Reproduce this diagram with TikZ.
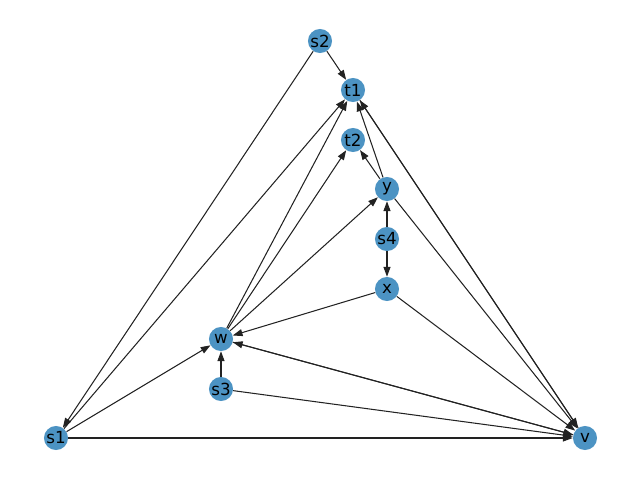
\documentclass[tikz,border=0pt]{standalone}
\usepackage{fontspec}
\setmainfont{DejaVu Sans}
\usepackage{xcolor}
\usetikzlibrary{arrows.meta}
\definecolor{nodeblue}{RGB}{76,147,195}
\definecolor{edgegray}{RGB}{34,34,34}

\begin{document}
\begin{tikzpicture}[x=0.72pt,y=-0.72pt,
		vertex/.style={circle,fill=nodeblue,inner sep=0pt,minimum size=17.3pt,font=\fontsize{12}{12}\selectfont},
		edge/.style={draw=edgegray,line width=0.75pt,-{Triangle[length=7pt,width=5pt]}}]
			\useasboundingbox (0,0) rectangle (640,480);
			\node[vertex] (s2) at (320,41) {s2};
			\node[vertex] (t1) at (353,90) {t1};
			\node[vertex] (t2) at (353,140) {t2};
			\node[vertex] (y) at (387,189) {y};
			\node[vertex] (s4) at (387,239) {s4};
			\node[vertex] (x) at (387,289) {x};
			\node[vertex] (w) at (221,339) {w};
			\node[vertex] (s3) at (221,389) {s3};
			\node[vertex] (s1) at (56,438) {s1};
			\node[vertex] (v) at (585,438) {v};
			\draw[edge] (s2) -- (t1);
			\draw[edge] (s2) -- (s1);
			\draw[edge] (s1) -- (t1);
			\draw[edge] (s1) -- (w);
			\draw[edge] (s1) -- (v);
			\draw[edge] (t1) -- (v); \draw[edge] (v) -- (t1);
			\draw[edge] (w) -- (v); \draw[edge] (v) -- (w);
			\draw[edge] (y) -- (t1); \draw[edge] (y) -- (t2); \draw[edge] (y) -- (v);
			\draw[edge] (s4) -- (y); \draw[edge] (s4) -- (x);
			\draw[edge] (x) -- (w); \draw[edge] (x) -- (v);
			\draw[edge] (w) -- (t1); \draw[edge] (w) -- (t2); \draw[edge] (w) -- (y);
			\draw[edge] (s3) -- (w); \draw[edge] (s3) -- (v);
		\end{tikzpicture}
\end{document}
